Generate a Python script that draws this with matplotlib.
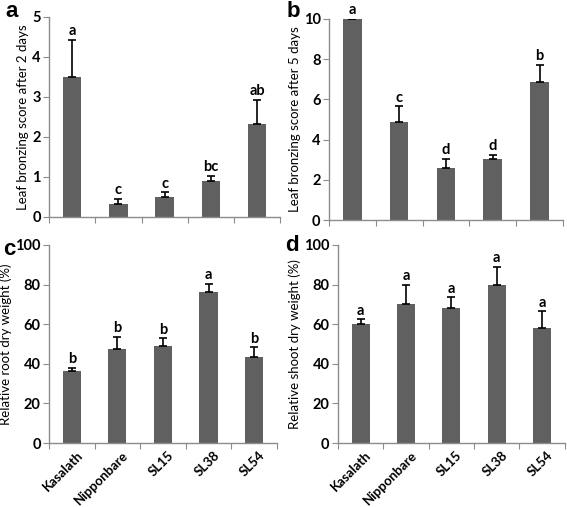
import numpy as np
import matplotlib
matplotlib.use('Agg')
import matplotlib.pyplot as plt

plt.rcParams['font.family'] = ['Lato', 'DejaVu Sans']

lines = ['Kasalath', 'Nipponbare', 'SL15', 'SL38', 'SL54']

# a: leaf bronzing score after 2 days
score2d = [3.5, 0.33, 0.5, 0.9, 2.33]
score2d_err = [0.92, 0.12, 0.12, 0.13, 0.6]
score2d_grp = ['a', 'c', 'c', 'bc', 'ab']

# b: leaf bronzing score after 5 days
score5d = [10.0, 4.85, 2.6, 3.05, 6.85]
score5d_err = [0.0, 0.8, 0.45, 0.2, 0.85]
score5d_grp = ['a', 'c', 'd', 'd', 'b']

# c: relative root dry weight
root = [36.5, 47.5, 48.8, 76.3, 43.2]
root_err = [1.5, 6.2, 4.0, 4.2, 5.2]
root_grp = ['b', 'b', 'b', 'a', 'b']

# d: relative shoot dry weight
shoot = [60.2, 70.0, 68.0, 80.0, 58.0]
shoot_err = [2.2, 10.0, 5.5, 9.0, 8.5]
shoot_grp = ['a', 'a', 'a', 'a', 'a']

BAR = '#606060'
AXC = '#8c8c8c'


def draw_panel(ax, vals, errs, grps, ymax, ystep, ylabel, show_x):
    x = np.arange(len(vals))
    ax.bar(x, vals, width=0.4, color=BAR, zorder=2)
    ax.errorbar(x, vals, yerr=[np.zeros(len(errs)), errs], fmt='none',
                ecolor='black', elinewidth=1.2, capsize=3, capthick=1.2, zorder=3)
    off = ymax * 0.008
    for xi, v, e, g in zip(x, vals, errs, grps):
        ax.text(xi, v + e + off, g, ha='center', va='bottom', fontsize=10.5,
                fontweight='bold')
    ax.set_xlim(-0.5, len(vals) - 0.5)
    ax.set_ylim(0, ymax)
    ax.set_yticks(np.arange(0, ymax + ystep / 2, ystep))
    ax.set_xticks(np.arange(-0.5, len(vals) + 0.5, 1.0))
    ax.set_xticklabels([])
    ax.tick_params(axis='x', length=4, color=AXC, direction='out')
    ax.tick_params(axis='y', length=4, color=AXC, direction='out', labelsize=10.5, pad=2)
    for lab in ax.get_yticklabels():
        lab.set_fontweight('bold')
    if show_x:
        ax.set_xticks(x + 0.1, minor=True)
        ax.set_xticklabels(lines, minor=True, rotation=45, ha='right',
                           rotation_mode='anchor', fontsize=9.5, fontweight='bold')
        ax.tick_params(axis='x', which='minor', length=0, pad=4)
    for s in ['top', 'right']:
        ax.spines[s].set_visible(False)
    for s in ['left', 'bottom']:
        ax.spines[s].set_color(AXC)
        ax.spines[s].set_linewidth(1.0)
    ax.set_ylabel(ylabel, fontsize=9.5, labelpad=2)


fig = plt.figure(figsize=(5.67, 5.07), dpi=100)
ax_a = fig.add_axes([0.0864, 0.572, 0.408, 0.395])
ax_b = fig.add_axes([0.580, 0.566, 0.413, 0.397])
ax_c = fig.add_axes([0.0864, 0.126, 0.402, 0.391])
ax_d = fig.add_axes([0.596, 0.126, 0.400, 0.391])

draw_panel(ax_a, score2d, score2d_err, score2d_grp, 5, 1,
           'Leaf bronzing score after 2 days', False)
draw_panel(ax_b, score5d, score5d_err, score5d_grp, 10, 2,
           'Leaf bronzing score after 5 days', False)
draw_panel(ax_c, root, root_err, root_grp, 100, 20,
           'Relative root dry weight (%)', True)
draw_panel(ax_d, shoot, shoot_err, shoot_grp, 100, 20,
           'Relative shoot dry weight (%)', True)

# panel letters
for lx, ly, s in [(0.009, 0.978, 'a'), (0.505, 0.978, 'b'),
                  (0.006, 0.508, 'c'), (0.502, 0.515, 'd')]:
    fig.text(lx, ly, s, fontsize=16, fontweight='bold',
             family='Liberation Sans', ha='left', va='center')

fig.savefig('out.png', dpi=100)
